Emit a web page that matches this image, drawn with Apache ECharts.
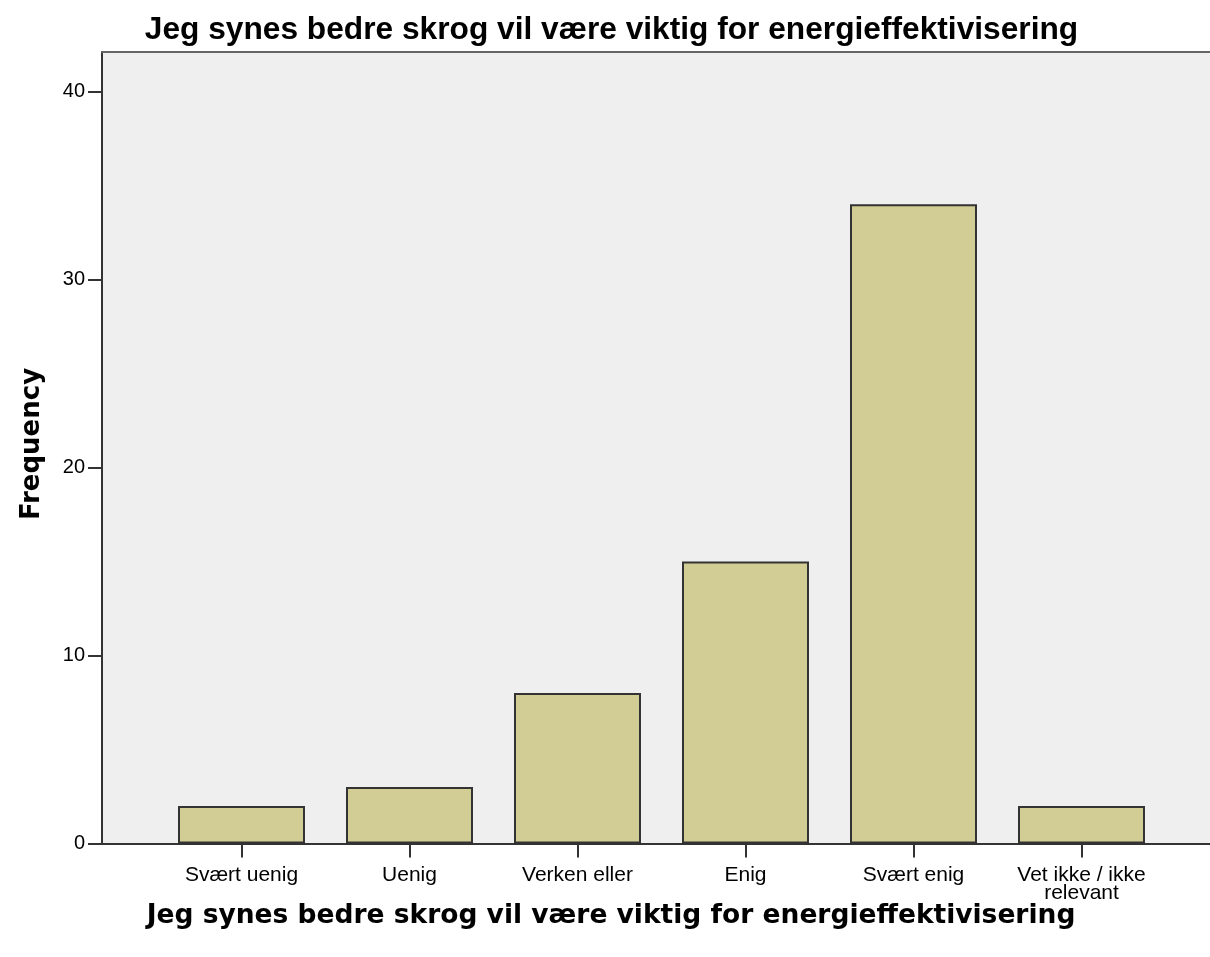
<!DOCTYPE html>
<html>
<head>
<meta charset="utf-8">
<script src="https://cdn.jsdelivr.net/npm/echarts@6/dist/echarts.min.js"></script>
<style>
  html, body { margin: 0; padding: 0; background: #fff; }
  #chart { width: 1210px; height: 957px; }
</style>
</head>
<body>
<div id="chart"></div>
<script>
// Responses to the survey statement
const categories = ['Svært uenig', 'Uenig', 'Verken eller', 'Enig', 'Svært enig', 'Vet ikke / ikke\nrelevant'];
const frequencies = [2, 3, 8, 15, 34, 2];
const yTicks = [0, 10, 20, 30, 40];

const titleText = 'Jeg synes bedre skrog vil være viktig for energieffektivisering';
const Y_MAX = 42.1;

const chart = echarts.init(document.getElementById('chart'), null, { renderer: 'canvas' });

const option = {
  animation: false,
  graphic: [
    {
      // chart title
      type: 'text',
      x: 611.5,
      y: 30,
      style: { text: titleText, font: 'bold 31.7px "Liberation Sans"', fill: '#000', align: 'center', verticalAlign: 'middle' }
    },
    {
      // category axis title
      type: 'text',
      x: 611,
      y: 916,
      style: { text: titleText, font: 'bold 26.5px "DejaVu Sans"', fill: '#000', align: 'center', verticalAlign: 'middle' }
    },
    {
      // value axis title
      type: 'text',
      x: 19,
      y: 444,
      rotation: Math.PI / 2,
      style: { text: 'Frequency', font: 'bold 26px "DejaVu Sans"', fill: '#000', align: 'center', verticalAlign: 'top' }
    }
  ],
  grid: [
    // frame: background, y axis and baseline
    { left: 102, right: 0, top: 52, bottom: 113.5, show: true, backgroundColor: '#efefef', borderWidth: 0 },
    // bars
    { left: 157.5, right: 44.5, top: 52, bottom: 113.5 }
  ],
  xAxis: [
    {
      gridIndex: 0, type: 'value', min: 0, max: 1,
      axisLine: { show: true, lineStyle: { color: '#333', width: 2 } },
      axisTick: { show: false }, axisLabel: { show: false }, splitLine: { show: false }
    },
    {
      gridIndex: 0, type: 'value', min: 0, max: 1, position: 'top',
      axisLine: { show: true, lineStyle: { color: '#666', width: 2 } },
      axisTick: { show: false }, axisLabel: { show: false }, splitLine: { show: false }
    },
    {
      gridIndex: 1, type: 'category', data: categories,
      axisLine: { show: false },
      axisTick: { show: true, alignWithLabel: true, length: 14, lineStyle: { color: '#333', width: 2 } },
      axisLabel: { fontFamily: 'Liberation Sans', fontSize: 21, color: '#000', margin: 23, lineHeight: 17.5, interval: 0 },
      splitLine: { show: false }
    }
  ],
  yAxis: [
    {
      gridIndex: 0, type: 'value', min: 0, max: Y_MAX,
      axisLine: { show: true, lineStyle: { color: '#333', width: 2 } },
      axisTick: { show: true, length: 14, customValues: yTicks, lineStyle: { color: '#333', width: 2 } },
      axisLabel: {
        fontFamily: 'Liberation Sans', fontSize: 20, color: '#000', margin: 17,
        customValues: yTicks
      },
      splitLine: { show: false }
    },
    {
      gridIndex: 1, type: 'value', min: 0, max: Y_MAX, show: false, splitLine: { show: false }
    }
  ],
  series: [
    {
      type: 'bar',
      xAxisIndex: 2,
      yAxisIndex: 1,
      data: frequencies,
      barWidth: 127,
      itemStyle: { color: '#d2cd95', borderColor: '#333', borderWidth: 2 }
    }
  ]
};

chart.setOption(option);
</script>
</body>
</html>
